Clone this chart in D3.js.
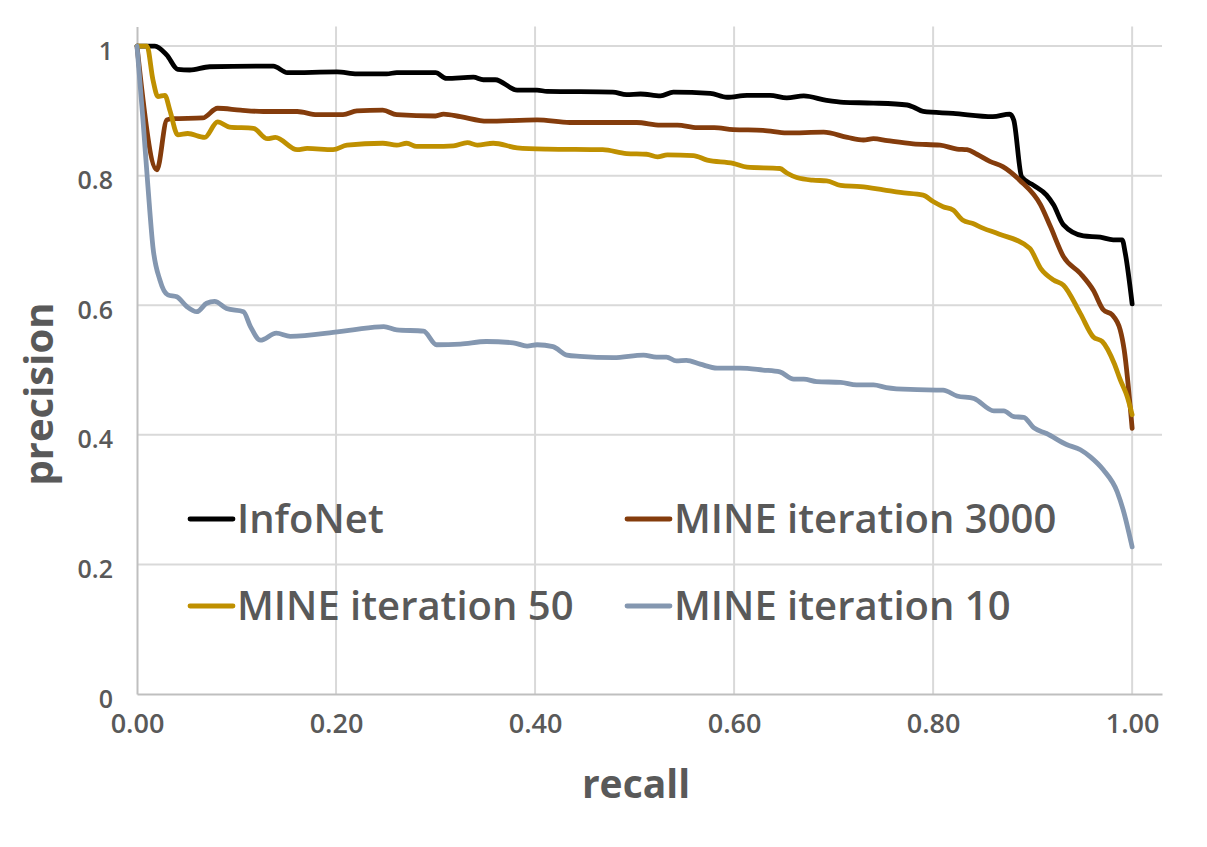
<!DOCTYPE html>
<html>
<head>
<meta charset="utf-8">
<script src="https://cdn.jsdelivr.net/npm/d3@7"></script>
<style>
  body { margin: 0; background: #fff; }
  svg { display: block; font-family: "Open Sans", "Noto Sans", sans-serif; }
</style>
</head>
<body>
<svg id="chart" width="1207" height="847"></svg>
<script>
// series: [recall, precision]
const infoNet = [[0,1.0],[0.018,1.0],[0.03,0.986],[0.041,0.964],[0.053,0.963],[0.073,0.968],[0.137,0.969],[0.151,0.959],[0.201,0.96],[0.221,0.957],[0.251,0.957],[0.261,0.959],[0.3,0.959],[0.311,0.95],[0.338,0.952],[0.348,0.948],[0.36,0.948],[0.382,0.932],[0.402,0.932],[0.412,0.930],[0.478,0.929],[0.492,0.925],[0.506,0.926],[0.526,0.923],[0.539,0.929],[0.576,0.927],[0.593,0.921],[0.613,0.924],[0.636,0.924],[0.653,0.920],[0.67,0.923],[0.693,0.916],[0.71,0.913],[0.74,0.912],[0.774,0.909],[0.78,0.906],[0.79,0.899],[0.82,0.896],[0.86,0.891],[0.877,0.895],[0.881,0.886],[0.889,0.798],[0.901,0.785],[0.914,0.770],[0.921,0.755],[0.931,0.724],[0.951,0.707],[0.968,0.705],[0.981,0.701],[0.99,0.701],[0.993,0.681],[1.0,0.602]];

const mine3000 = [[0,1.0],[0.02,0.809],[0.03,0.886],[0.036,0.888],[0.066,0.889],[0.081,0.904],[0.104,0.901],[0.127,0.899],[0.161,0.899],[0.181,0.894],[0.207,0.894],[0.221,0.9],[0.247,0.901],[0.261,0.894],[0.3,0.892],[0.308,0.895],[0.325,0.891],[0.352,0.884],[0.402,0.886],[0.435,0.882],[0.502,0.882],[0.526,0.878],[0.543,0.878],[0.563,0.874],[0.58,0.874],[0.599,0.871],[0.629,0.870],[0.653,0.866],[0.69,0.867],[0.714,0.859],[0.73,0.855],[0.74,0.857],[0.754,0.854],[0.78,0.849],[0.807,0.847],[0.824,0.841],[0.834,0.840],[0.844,0.833],[0.857,0.822],[0.87,0.814],[0.887,0.793],[0.908,0.755],[0.918,0.721],[0.931,0.675],[0.948,0.649],[0.961,0.623],[0.971,0.593],[0.98,0.585],[0.988,0.562],[0.992,0.531],[1.0,0.41]];

const mine50 = [[0,1.0],[0.01,1.0],[0.016,0.948],[0.021,0.922],[0.028,0.924],[0.033,0.901],[0.041,0.863],[0.051,0.865],[0.068,0.859],[0.081,0.883],[0.093,0.875],[0.117,0.873],[0.131,0.857],[0.139,0.859],[0.161,0.840],[0.171,0.842],[0.197,0.840],[0.211,0.847],[0.247,0.85],[0.261,0.847],[0.271,0.85],[0.281,0.845],[0.298,0.845],[0.318,0.846],[0.332,0.851],[0.342,0.847],[0.358,0.85],[0.382,0.843],[0.412,0.841],[0.468,0.840],[0.492,0.834],[0.512,0.833],[0.523,0.829],[0.533,0.832],[0.559,0.831],[0.573,0.824],[0.599,0.819],[0.613,0.813],[0.646,0.811],[0.653,0.804],[0.663,0.797],[0.679,0.793],[0.693,0.792],[0.707,0.785],[0.727,0.783],[0.75,0.778],[0.767,0.774],[0.79,0.770],[0.8,0.76],[0.81,0.752],[0.82,0.747],[0.83,0.731],[0.84,0.726],[0.85,0.719],[0.866,0.71],[0.897,0.688],[0.908,0.657],[0.921,0.639],[0.931,0.631],[0.948,0.587],[0.961,0.551],[0.97,0.544],[0.982,0.51],[0.988,0.485],[0.995,0.459],[1.0,0.431]];

const mine10 = [[0,1.0],[0.006,0.886],[0.011,0.783],[0.016,0.690],[0.023,0.639],[0.031,0.616],[0.04,0.613],[0.05,0.598],[0.06,0.59],[0.07,0.603],[0.078,0.606],[0.09,0.595],[0.107,0.59],[0.114,0.567],[0.124,0.546],[0.14,0.557],[0.154,0.552],[0.197,0.558],[0.217,0.562],[0.248,0.567],[0.261,0.562],[0.288,0.560],[0.301,0.539],[0.325,0.540],[0.351,0.544],[0.378,0.542],[0.392,0.537],[0.402,0.539],[0.418,0.536],[0.432,0.523],[0.445,0.521],[0.479,0.519],[0.509,0.523],[0.522,0.520],[0.532,0.520],[0.542,0.514],[0.552,0.515],[0.566,0.509],[0.583,0.503],[0.606,0.503],[0.629,0.5],[0.646,0.497],[0.66,0.486],[0.67,0.486],[0.683,0.482],[0.707,0.481],[0.723,0.477],[0.74,0.477],[0.753,0.473],[0.777,0.470],[0.81,0.469],[0.824,0.46],[0.841,0.456],[0.861,0.437],[0.871,0.437],[0.881,0.428],[0.891,0.427],[0.901,0.411],[0.914,0.402],[0.934,0.385],[0.948,0.377],[0.958,0.366],[0.971,0.346],[0.985,0.312],[0.991,0.284],[1.0,0.227]];

const seriesNames = ['InfoNet', 'MINE iteration 3000', 'MINE iteration 50', 'MINE iteration 10'];
const seriesColors = ['#000000', '#843c0c', '#bf9000', '#8497b0'];
const xTicks = [0, 0.2, 0.4, 0.6, 0.8, 1.0];
const yTicks = [0, 0.2, 0.4, 0.6, 0.8, 1.0];

const allSeries = [infoNet, mine3000, mine50, mine10];

const svg = d3.select('#chart');
const textColor = '#595959';

// plot area runs a bit past 1.0 on both axes, like the original
const x = d3.scaleLinear().domain([0, 1.03]).range([137, 1162]);
const y = d3.scaleLinear().domain([0, 1.03]).range([694, 26.6]);

// gridlines
svg.append('g').selectAll('line').data(yTicks.filter(d => d > 0)).enter().append('line')
  .attr('x1', x(0)).attr('x2', x(1.03))
  .attr('y1', d => y(d)).attr('y2', d => y(d))
  .attr('stroke', '#d9d9d9').attr('stroke-width', 2);

svg.append('g').selectAll('line').data(xTicks.filter(d => d > 0)).enter().append('line')
  .attr('x1', d => x(d)).attr('x2', d => x(d))
  .attr('y1', y(0)).attr('y2', y(1.03))
  .attr('stroke', '#d9d9d9').attr('stroke-width', 2);

// axes
const xAxis = svg.append('g')
  .attr('transform', `translate(0, ${y(0)})`)
  .call(d3.axisBottom(x).tickValues(xTicks).tickSize(0).tickPadding(20).tickFormat(d => d.toFixed(2)));
xAxis.select('.domain').attr('stroke', '#bfbfbf').attr('stroke-width', 2);
xAxis.selectAll('text').attr('fill', textColor).attr('font-size', 27).attr('font-weight', 600)
  .attr('font-family', '"Open Sans", sans-serif');

const yAxis = svg.append('g')
  .attr('transform', `translate(${x(0)}, 0)`)
  .call(d3.axisLeft(y).tickValues(yTicks).tickSize(0).tickPadding(24)
    .tickFormat(d => (d === 0 || d === 1) ? String(d) : d.toFixed(1)));
yAxis.select('.domain').attr('stroke', '#bfbfbf').attr('stroke-width', 2);
yAxis.selectAll('text').attr('fill', textColor).attr('font-size', 25).attr('font-weight', 600)
  .attr('font-family', '"Open Sans", sans-serif').attr('dy', '0.52em');

// series lines
const line = d3.line()
  .x(d => x(d[0]))
  .y(d => y(d[1]))
  .curve(d3.curveMonotoneX);

svg.append('g').selectAll('path').data(allSeries).enter().append('path')
  .attr('d', line)
  .attr('fill', 'none')
  .attr('stroke', (d, i) => seriesColors[i])
  .attr('stroke-width', 4.8)
  .attr('stroke-linejoin', 'round')
  .attr('stroke-linecap', 'round');

// axis titles
svg.append('text')
  .attr('x', 636).attr('y', 798)
  .attr('text-anchor', 'middle')
  .attr('font-size', 39).attr('font-weight', 700).attr('fill', textColor)
  .text('recall');

svg.append('text')
  .attr('transform', 'translate(53, 394) rotate(-90)')
  .attr('text-anchor', 'middle')
  .attr('font-size', 40).attr('font-weight', 700).attr('fill', textColor)
  .text('precision');

// legend, two columns by two rows
const legendCols = [190, 627];
const legendRows = [519, 606];
const legend = svg.append('g').selectAll('g').data(seriesNames).enter().append('g')
  .attr('transform', (d, i) => `translate(${legendCols[i % 2]}, ${legendRows[Math.floor(i / 2)]})`);

legend.append('line')
  .attr('x1', 0).attr('x2', 43).attr('y1', 0).attr('y2', 0)
  .attr('stroke', (d, i) => seriesColors[i])
  .attr('stroke-width', 4.8)
  .attr('stroke-linecap', 'round');

legend.append('text')
  .attr('x', 47).attr('y', 14)
  .attr('font-size', 40).attr('font-weight', 600).attr('fill', textColor)
  .text(d => d);
</script>
</body>
</html>
